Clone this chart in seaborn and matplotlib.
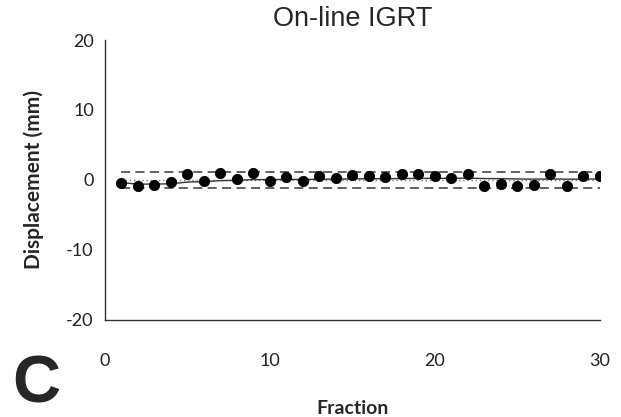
import matplotlib
matplotlib.use("Agg")
import matplotlib.pyplot as plt
import seaborn as sns
import pandas as pd

# Data
fractions = list(range(1, 31))
displacement = [-0.4, -0.9, -0.7, -0.3, 0.9, -0.2, 1.0, 0.2, 1.0, -0.1,
                0.4, -0.1, 0.6, 0.3, 0.7, 0.6, 0.4, 0.8, 0.8, 0.6,
                0.3, 0.9, -0.9, -0.6, -0.9, -0.7, 0.9, -0.8, 0.5, 0.6]
trend = [-0.4, -0.6, -0.6, -0.55, -0.3, -0.25, -0.1, -0.05, 0.05, 0.05,
         0.08, 0.07, 0.1, 0.12, 0.15, 0.17, 0.18, 0.2, 0.22, 0.23,
         0.23, 0.25, 0.2, 0.18, 0.14, 0.11, 0.14, 0.11, 0.12, 0.13]
band_upper = 1.2
band_lower = -1.2
center_line = 0.0

x_ticks = [0, 10, 20, 30]
y_ticks = [-20, -10, 0, 10, 20]

sns.set_theme(style="white")
plt.rcParams['font.family'] = ['Lato', 'DejaVu Sans']

df = pd.DataFrame({"Fraction": fractions, "Displacement": displacement, "Trend": trend})

fig = plt.figure(figsize=(6.21, 4.17), dpi=100)
ax = fig.add_axes([0.169, 0.233, 0.797, 0.671])

ax.plot([fractions[0], fractions[-1]], [band_upper, band_upper], ls=(0, (5, 3)), color="#555555", lw=1.3)
ax.plot([fractions[0], fractions[-1]], [band_lower, band_lower], ls=(0, (5, 3)), color="#555555", lw=1.3)
ax.plot([fractions[0], fractions[-1]], [center_line, center_line], ls=(0, (1, 2)), color="#777777", lw=1.0)
sns.lineplot(data=df, x="Fraction", y="Trend", ax=ax, color="#333333", lw=1.0)
sns.scatterplot(data=df, x="Fraction", y="Displacement", ax=ax, color="black", s=55, edgecolor="black", zorder=5)

ax.set_xlim(0, 30)
ax.set_ylim(-20, 20)
ax.set_xticks(x_ticks)
ax.set_yticks(y_ticks)
ax.set_xticklabels([str(t) for t in x_ticks])
ax.set_yticklabels([str(t) for t in y_ticks])
ax.tick_params(axis="both", direction="in", length=6, width=1, colors="#222222", labelsize=13, labelcolor="#222222")
ax.tick_params(axis="x", pad=24)
ax.tick_params(axis="y", pad=8)
for s in ["top", "right"]:
    ax.spines[s].set_visible(False)
for s in ["left", "bottom"]:
    ax.spines[s].set_color("#333333")
    ax.spines[s].set_linewidth(1.0)

ax.set_xlabel("Fraction", fontsize=14, fontweight="bold", labelpad=22)
ax.set_ylabel("Displacement (mm)", fontsize=15, fontweight="bold", labelpad=16)
ax.set_title("On-line IGRT", fontsize=19.5, family=["Liberation Sans", "DejaVu Sans"], pad=10)

fig.text(0.02, 0.002, "C", fontsize=48, fontweight="bold", va="bottom",
         family=["Liberation Sans", "DejaVu Sans"])

fig.savefig("out.png", dpi=100)
